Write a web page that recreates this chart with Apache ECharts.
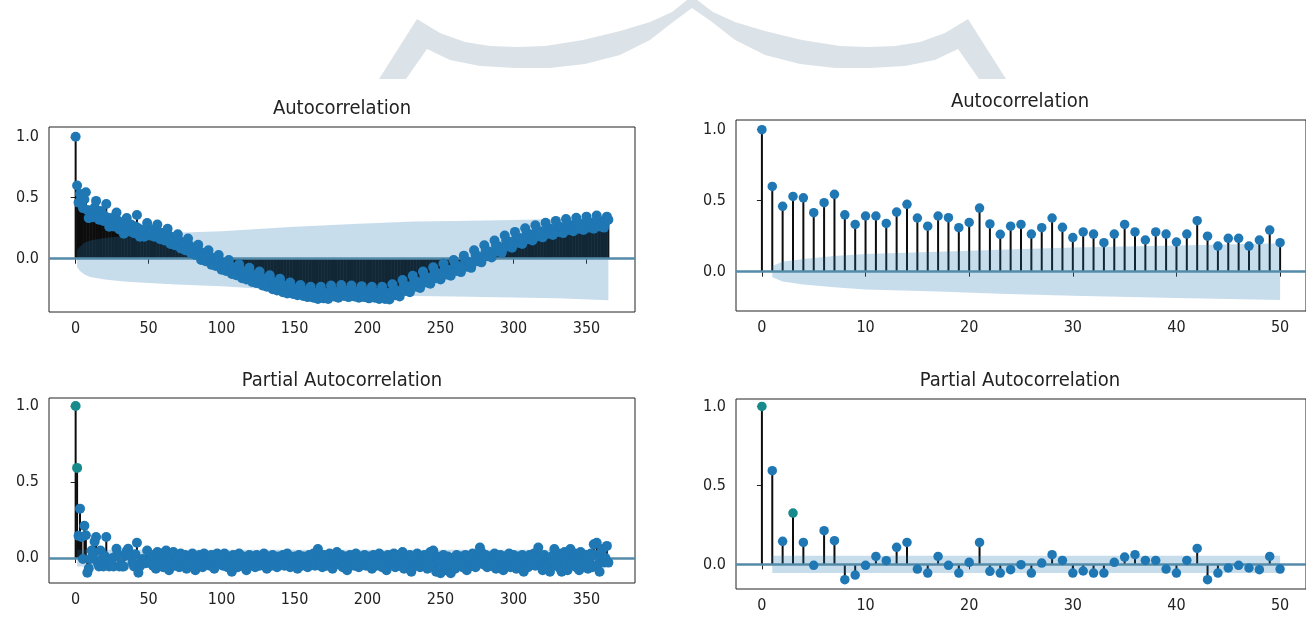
<!DOCTYPE html>
<html>
<head>
<meta charset="utf-8">
<title>ACF / PACF</title>
<script src="https://cdn.jsdelivr.net/npm/echarts@6/dist/echarts.min.js"></script>
<style>
  html, body { margin: 0; padding: 0; background: #fff; }
  #main { width: 1306px; height: 623px; }
</style>
</head>
<body>
<div id="main"></div>
<script>
// values, one entry per lag (index = lag)
var acfShort = [1.0, 0.60, 0.46, 0.53, 0.52, 0.415, 0.486, 0.545, 0.40, 0.333,
  0.392, 0.392, 0.34, 0.42, 0.474, 0.378, 0.32, 0.392, 0.38, 0.31,
  0.347, 0.448, 0.336, 0.263, 0.32, 0.333, 0.265, 0.31, 0.378, 0.312,
  0.24, 0.28, 0.265, 0.204, 0.265, 0.333, 0.28, 0.223, 0.28, 0.265,
  0.209, 0.265, 0.359, 0.25, 0.18, 0.235, 0.235, 0.18, 0.223, 0.293,
  0.204];

// lags 51..365 of the long ACF
var acfTail = [0.19, 0.24, 0.23, 0.18, 0.23,
  0.28, 0.22, 0.16, 0.21, 0.20, 0.15, 0.20,
  0.245, 0.19, 0.12, 0.175, 0.16, 0.11, 0.16,
  0.20, 0.15, 0.085, 0.13, 0.12, 0.07, 0.12,
  0.165, 0.11, 0.045, 0.09, 0.08, 0.03, 0.08,
  0.115, 0.06, -0.01, 0.045, 0.03, -0.02, 0.03,
  0.07, 0.02, -0.05, 0.0, -0.01, -0.06, -0.01,
  0.03, -0.02, -0.09, -0.04, -0.05, -0.10, -0.05,
  -0.01, -0.06, -0.125, -0.075, -0.085, -0.135, -0.09,
  -0.045, -0.09, -0.16, -0.11, -0.12, -0.17, -0.125,
  -0.075, -0.12, -0.19, -0.14, -0.15, -0.2, -0.155,
  -0.105, -0.15, -0.22, -0.17, -0.18, -0.23, -0.185,
  -0.135, -0.18, -0.25, -0.2, -0.21, -0.26, -0.215,
  -0.165, -0.21, -0.275, -0.225, -0.235, -0.285, -0.24,
  -0.195, -0.235, -0.29, -0.245, -0.255, -0.3, -0.26,
  -0.215, -0.255, -0.305, -0.265, -0.275, -0.315, -0.28,
  -0.23, -0.27, -0.32, -0.28, -0.29, -0.33, -0.29,
  -0.23, -0.27, -0.325, -0.28, -0.29, -0.33, -0.29,
  -0.22, -0.26, -0.31, -0.27, -0.28, -0.32, -0.28,
  -0.215, -0.255, -0.305, -0.265, -0.275, -0.315, -0.275,
  -0.22, -0.26, -0.31, -0.27, -0.28, -0.32, -0.28,
  -0.225, -0.265, -0.315, -0.275, -0.285, -0.325, -0.285,
  -0.23, -0.27, -0.32, -0.28, -0.29, -0.33, -0.29,
  -0.23, -0.27, -0.33, -0.28, -0.29, -0.335, -0.29,
  -0.21, -0.25, -0.3, -0.26, -0.27, -0.31, -0.27,
  -0.175, -0.215, -0.265, -0.225, -0.235, -0.275, -0.235,
  -0.14, -0.18, -0.23, -0.19, -0.2, -0.24, -0.2,
  -0.105, -0.145, -0.195, -0.155, -0.165, -0.205, -0.165,
  -0.07, -0.11, -0.16, -0.12, -0.13, -0.17, -0.13,
  -0.04, -0.08, -0.13, -0.09, -0.1, -0.14, -0.1,
  -0.01, -0.05, -0.1, -0.06, -0.07, -0.11, -0.07,
  0.025, -0.015, -0.065, -0.025, -0.035, -0.075, -0.035,
  0.07, 0.03, -0.02, 0.02, 0.01, -0.03, 0.01,
  0.11, 0.07, 0.02, 0.06, 0.05, 0.01, 0.05,
  0.15, 0.11, 0.06, 0.1, 0.09, 0.05, 0.09,
  0.19, 0.15, 0.1, 0.14, 0.13, 0.09, 0.13,
  0.22, 0.18, 0.13, 0.17, 0.16, 0.12, 0.16,
  0.25, 0.21, 0.16, 0.2, 0.19, 0.15, 0.19,
  0.275, 0.235, 0.185, 0.225, 0.215, 0.175, 0.215,
  0.295, 0.255, 0.205, 0.245, 0.235, 0.195, 0.235,
  0.31, 0.27, 0.22, 0.26, 0.25, 0.21, 0.25,
  0.325, 0.285, 0.235, 0.275, 0.265, 0.225, 0.265,
  0.335, 0.295, 0.245, 0.285, 0.275, 0.235, 0.275,
  0.345, 0.305, 0.255, 0.295, 0.285, 0.245, 0.285,
  0.355, 0.315, 0.265, 0.305, 0.295, 0.255, 0.3,
  0.345, 0.32];

var pacfShort = [1.0, 0.593, 0.146, 0.325, 0.139, -0.006, 0.213, 0.15, -0.097, -0.068,
  -0.006, 0.05, 0.023, 0.108, 0.139, -0.03, -0.055, 0.05, -0.006, -0.055,
  0.013, 0.139, -0.044, -0.055, -0.034, -0.002, -0.055, 0.008, 0.061, 0.025,
  -0.055, -0.042, -0.055, -0.055, 0.013, 0.046, 0.061, 0.025, 0.025, -0.03,
  -0.055, 0.025, 0.101, -0.097, -0.055, -0.023, -0.006, -0.023, -0.034, 0.05,
  -0.03];

// lags 51..365 of the long PACF
var pacfTail = [
  -0.03, 0.02, -0.05, 0.01, -0.07, 0.04, -0.02, -0.04, 0.03, -0.06,
  0.00, 0.05, -0.03, -0.08, 0.02, -0.01, 0.04, -0.05, -0.02, 0.01,
  -0.06, 0.03, -0.03, -0.01, 0.02, -0.07, -0.04, 0.01, -0.02, 0.03,
  -0.05, -0.08, 0.00, -0.03, 0.02, -0.01, -0.06, 0.03, -0.04, -0.02,
  0.01, -0.05, 0.02, -0.03, -0.07, 0.00, 0.03, -0.04, -0.01, 0.02,
  -0.05, 0.03, -0.02, -0.06, 0.01, -0.03, -0.09, 0.02, -0.04, 0.00,
  -0.06, 0.03, -0.02, -0.05, 0.01, -0.03, -0.08, -0.01, 0.02, -0.04,
  -0.02, 0.01, -0.06, 0.02, -0.03, -0.05, 0.00, -0.02, 0.03, -0.04,
  -0.07, 0.01, -0.02, -0.05, 0.02, -0.03, 0.00, -0.06, 0.01, -0.04,
  -0.02, 0.02, -0.05, -0.01, 0.03, -0.03, -0.06, 0.00, -0.02, 0.01,
  -0.04, -0.07, 0.02, -0.02, -0.05, 0.01, -0.03, 0.00, -0.06, 0.02,
  -0.04, -0.01, 0.03, -0.05, -0.02, 0.06, 0.01, -0.04, -0.06, 0.02,
  -0.02, -0.05, 0.00, 0.03, -0.03, -0.07, 0.01, -0.02, 0.04, -0.04,
  -0.01, 0.02, -0.06, -0.03, 0.01, -0.08, -0.02, 0.02, -0.04, 0.00,
  -0.05, 0.03, -0.02, -0.06, 0.01, -0.03, -0.01, 0.02, -0.05, -0.02,
  0.01, -0.04, -0.07, 0.02, -0.02, -0.05, 0.00, 0.03, -0.03, -0.06,
  0.01, -0.02, -0.08, 0.02, -0.04, 0.00, -0.03, 0.03, -0.06, -0.01,
  0.02, -0.05, -0.03, 0.04, -0.07, -0.02, 0.01, -0.04, 0.02, -0.09,
  -0.03, 0.00, -0.05, 0.03, -0.02, -0.06, 0.01, -0.04, 0.02, -0.03,
  -0.07, 0.00, 0.04, -0.02, 0.05, -0.05, -0.09, 0.01, -0.03, -0.10,
  -0.02, 0.02, -0.06, -0.08, 0.01, -0.04, -0.10, 0.00, -0.03, -0.07,
  0.02, -0.05, -0.01, 0.01, -0.06, -0.03, 0.02, -0.08, -0.02, 0.00,
  -0.05, 0.03, -0.03, -0.06, 0.01, -0.02, 0.07, 0.04, -0.04, -0.01,
  0.02, -0.06, -0.03, 0.01, -0.05, -0.02, 0.03, -0.07, 0.00, -0.04,
  0.02, -0.03, -0.08, 0.01, -0.02, -0.05, 0.03, -0.06, -0.01, 0.02,
  -0.04, -0.07, 0.01, -0.02, -0.05, 0.02, -0.09, -0.03, 0.00, -0.06,
  0.02, -0.04, -0.01, 0.03, -0.05, -0.02, 0.07, 0.01, -0.04, -0.08,
  0.02, -0.03, -0.06, 0.00, -0.09, 0.01, -0.03, 0.06, -0.05, -0.02,
  0.03, -0.07, -0.09, 0.01, 0.04, -0.03, -0.08, 0.02, 0.06, -0.04,
  -0.01, 0.03, -0.06, 0.00, -0.08, 0.04, -0.03, 0.01, -0.05, 0.02,
  -0.07, -0.02, 0.03, -0.06, 0.09, 0.02, 0.10, -0.04, -0.09, 0.01,
  0.06, -0.03, 0.00, 0.08, -0.03];

var acfLong = acfShort.concat(acfTail);
var pacfLong = pacfShort.concat(pacfTail);

// confidence band half widths, read at a few lags
var acfLongBandLags = [1, 3, 6, 10, 20, 33, 50, 69, 100, 147, 190, 232, 260, 300, 330, 365];
var acfLongBandHalf = [0.07, 0.1, 0.13, 0.15, 0.17, 0.186, 0.2, 0.212, 0.225, 0.26, 0.285, 0.305, 0.31, 0.318, 0.325, 0.34];
var acfShortBandLags = [1, 2, 4, 7, 10, 17, 23, 30, 40, 50];
var acfShortBandHalf = [0.04, 0.07, 0.09, 0.11, 0.125, 0.14, 0.155, 0.17, 0.185, 0.2];
var pacfLongBandLags = [1, 365];
var pacfLongBandHalf = [0.055, 0.055];
var pacfShortBandLags = [1, 50];
var pacfShortBandHalf = [0.055, 0.055];

var longTicks = [0, 50, 100, 150, 200, 250, 300, 350];
var shortTicks = [0, 10, 20, 30, 40, 50];
var yTicks = [0, 0.5, 1.0];

var titleAcf = 'Autocorrelation';
var titlePacf = 'Partial Autocorrelation';

var FONT = '"DejaVu Sans Condensed", "DejaVu Sans", sans-serif';
var BLUE = '#1f77b4';
var TEAL = '#178a8c';

var panels = [
  { vals: acfLong, bandLags: acfLongBandLags, bandHalf: acfLongBandHalf, ticks: longTicks,
    xMin: -18.25, xMax: 383.25, yMin: -0.437, yMax: 1.08, teal: [],
    grid: { left: 49, top: 127, width: 586, height: 185 }, stem: 2, sym: 10,
    title: titleAcf, tx: 342, ty: 109 },
  { vals: pacfLong, bandLags: pacfLongBandLags, bandHalf: pacfLongBandHalf, ticks: longTicks,
    xMin: -18.25, xMax: 383.25, yMin: -0.164, yMax: 1.0525, teal: [0, 1],
    grid: { left: 49, top: 398, width: 586, height: 185 }, stem: 2, sym: 10,
    title: titlePacf, tx: 342, ty: 381 },
  { vals: acfShort, bandLags: acfShortBandLags, bandHalf: acfShortBandHalf, ticks: shortTicks,
    xMin: -2.5, xMax: 52.5, yMin: -0.277, yMax: 1.068, teal: [],
    grid: { left: 736, top: 120, width: 573, height: 191 }, stem: 2, sym: 9.5,
    title: titleAcf, tx: 1020, ty: 102 },
  { vals: pacfShort, bandLags: pacfShortBandLags, bandHalf: pacfShortBandHalf, ticks: shortTicks,
    xMin: -2.5, xMax: 52.5, yMin: -0.156, yMax: 1.047, teal: [0, 3],
    grid: { left: 736, top: 399, width: 573, height: 190 }, stem: 2, sym: 9.5,
    title: titlePacf, tx: 1020, ty: 381 }
];

var grids = [], xAxes = [], yAxes = [], series = [], graphics = [];

// light watermark arc at the top of the page
graphics.push({
  type: 'polygon', z: -10,
  shape: { points: [
    [379, 79], [417, 19], [440, 33], [465, 42], [490, 46], [517, 47], [545, 46], [583, 40],
    [620, 31], [650, 22], [672, 12], [692, -4], [713, 12], [735, 22], [765, 31], [802, 40],
    [840, 46], [868, 47], [895, 46], [920, 42], [945, 33], [968, 19], [1006, 79],
    [979, 79], [958, 49], [935, 60], [905, 66], [870, 68], [835, 68], [800, 64], [765, 55],
    [735, 40], [712, 22], [692, 8], [673, 22], [650, 40], [620, 55], [585, 64], [550, 68],
    [515, 68], [480, 66], [450, 60], [427, 49], [406, 79]
  ] },
  style: { fill: '#dce3e8' }
});

panels.forEach(function (p, i) {
  grids.push({
    left: p.grid.left, top: p.grid.top, width: p.grid.width, height: p.grid.height,
    show: true, borderColor: '#222', borderWidth: 1, backgroundColor: 'transparent'
  });
  xAxes.push({
    type: 'value', gridIndex: i, min: p.xMin, max: p.xMax,
    splitLine: { show: false },
    axisLine: { show: false },
    axisTick: { show: true, inside: false, length: 5, customValues: p.ticks, lineStyle: { color: '#222' } },
    axisLabel: { customValues: p.ticks, fontFamily: FONT, fontSize: 16, color: '#222', margin: 9 }
  });
  yAxes.push({
    type: 'value', gridIndex: i, min: p.yMin, max: p.yMax,
    splitLine: { show: false },
    axisLine: { show: false },
    axisTick: { show: true, inside: false, length: 5, customValues: yTicks, lineStyle: { color: '#222' } },
    axisLabel: { customValues: yTicks, fontFamily: FONT, fontSize: 16, color: '#222', margin: 10,
      formatter: function (v) { return Number(v).toFixed(1); } }
  });

  var pts = p.vals.map(function (v, lag) { return [lag, v]; });
  var up = p.bandLags.map(function (l, j) { return [l, p.bandHalf[j]]; });
  var down = p.bandLags.map(function (l, j) { return [l, -p.bandHalf[j]]; });

  // stems
  series.push({
    type: 'custom', xAxisIndex: i, yAxisIndex: i, z: 2, silent: true, clip: true,
    data: pts,
    renderItem: (function (w) {
      return function (params, api) {
        var a = api.coord([api.value(0), 0]);
        var b = api.coord([api.value(0), api.value(1)]);
        return { type: 'line', shape: { x1: a[0], y1: a[1], x2: b[0], y2: b[1] },
          style: { stroke: '#0d0d0d', lineWidth: w } };
      };
    })(p.stem)
  });
  // confidence band
  series.push({
    type: 'line', xAxisIndex: i, yAxisIndex: i, z: 3, silent: true,
    data: up, symbol: 'none', lineStyle: { width: 0 },
    areaStyle: { color: BLUE, opacity: 0.25 }
  });
  series.push({
    type: 'line', xAxisIndex: i, yAxisIndex: i, z: 3, silent: true,
    data: down, symbol: 'none', lineStyle: { width: 0 },
    areaStyle: { color: BLUE, opacity: 0.25 },
    markLine: {
      silent: true, symbol: ['none', 'none'], label: { show: false },
      lineStyle: { color: '#548ba8', width: 2.5, type: 'solid' },
      emphasis: { disabled: true },
      data: [{ yAxis: 0 }]
    }
  });
  // markers
  series.push({
    type: 'scatter', xAxisIndex: i, yAxisIndex: i, z: 10, silent: true,
    data: pts, symbol: 'circle', symbolSize: p.sym,
    itemStyle: {
      opacity: 1,
      color: (function (teal) {
        return function (params) { return teal.indexOf(params.data[0]) >= 0 ? TEAL : BLUE; };
      })(p.teal)
    }
  });

  graphics.push({
    type: 'text', x: p.tx, y: p.ty, z: 20,
    style: { text: p.title, fontFamily: FONT, fontSize: 20, fill: '#222',
      align: 'center', verticalAlign: 'middle' }
  });
});

var chart = echarts.init(document.getElementById('main'), null, { renderer: 'canvas' });
chart.setOption({
  animation: false,
  backgroundColor: '#fff',
  grid: grids,
  xAxis: xAxes,
  yAxis: yAxes,
  series: series,
  graphic: graphics
});
</script>
</body>
</html>
